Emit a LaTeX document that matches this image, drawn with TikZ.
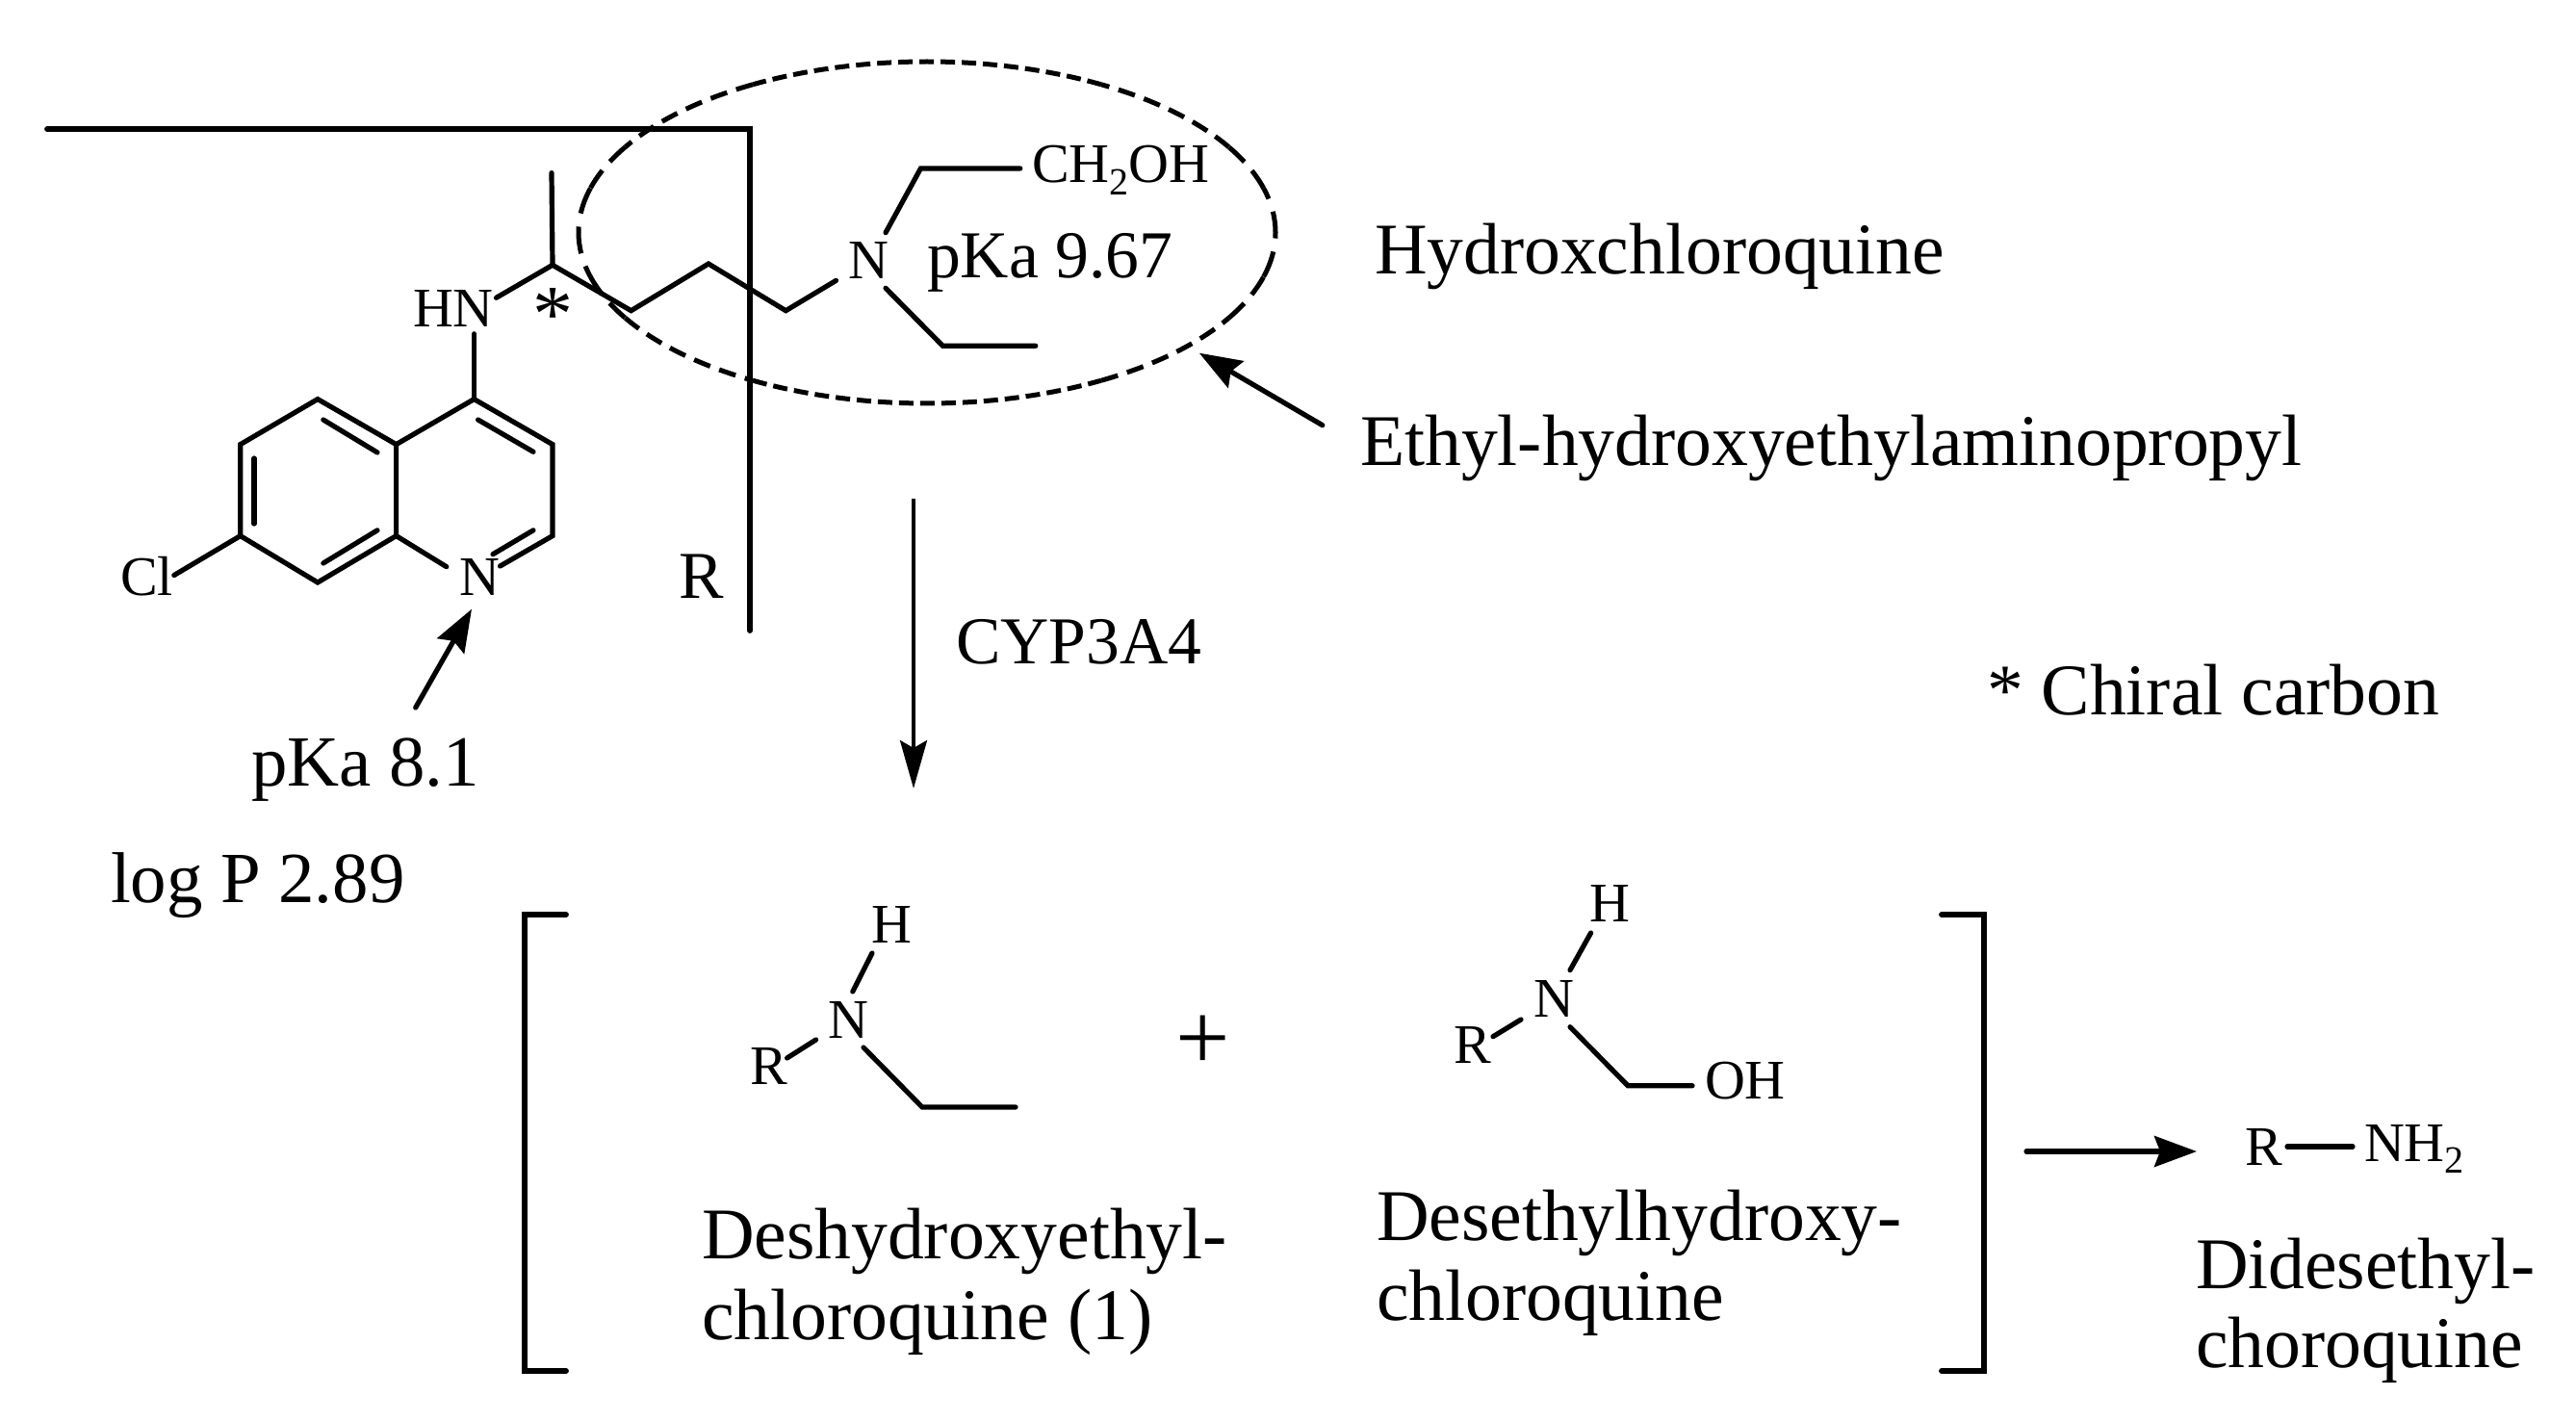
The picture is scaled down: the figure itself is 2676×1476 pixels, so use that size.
\documentclass[tikz,border=0pt]{standalone}
\usepackage{fontspec}
\setmainfont{Liberation Serif}
\usetikzlibrary{arrows.meta}
\newcommand{\bigtxt}{\fontsize{37.8}{41}\selectfont}
\newcommand{\midtxt}{\fontsize{34.8}{38}\selectfont}
\newcommand{\pktxt}{\fontsize{37.4}{41}\selectfont}
\newcommand{\chemtxt}{\fontsize{29}{32}\selectfont}
\newcommand{\subtwo}{\raisebox{-6.3pt}{\fontsize{20}{22}\selectfont 2}}
\tikzset{
  lab/.style={anchor=base west,inner sep=0pt,outer sep=0pt,font=\bigtxt},
  midlab/.style={anchor=base west,inner sep=0pt,outer sep=0pt,font=\midtxt},
  pklab/.style={anchor=base west,inner sep=0pt,outer sep=0pt,font=\pktxt},
  chem/.style={anchor=base west,inner sep=0pt,outer sep=0pt,font=\chemtxt},
  bond/.style={line width=2.6pt,line cap=round,line join=miter,black},
  frame/.style={line width=2.9pt,line cap=round,line join=miter,black},
  arr/.style={line width=2.6pt,line cap=round,-{Stealth[length=22pt,width=16pt,inset=3pt]}},
  thinarr/.style={line width=1.9pt,-{Stealth[length=25pt,width=14pt,inset=4pt]}},
}
\begin{document}
\begin{tikzpicture}[x=0.5pt,y=-0.5pt]
\useasboundingbox (0,0) rectangle (2676,1476);
% ---- frame R
\coordinate (fa) at (49,134);
\coordinate (fb) at (779,134);
\coordinate (fc) at (779,655);
\draw[frame] (fa) -- (fb) -- (fc);
% ---- quinoline ring
\coordinate (c4) at (492.5,414.6);
\coordinate (c4a) at (411.6,461.6);
\coordinate (c8a) at (411.6,556.6);
\coordinate (c5) at (330,414.6);
\coordinate (c6) at (249.7,461.6);
\coordinate (c7) at (249.7,556.6);
\coordinate (c8) at (330,605);
\coordinate (c3) at (574,461.6);
\coordinate (c2) at (574,556.6);
\coordinate (nra) at (463.8,588.7);
\coordinate (nrb) at (519.5,588);
\coordinate (cle) at (180.8,597.5);
\draw[bond] (c4a) -- (c5) -- (c6) -- (c7) -- (c8) -- (c8a) -- cycle;
\draw[bond] (c4a) -- (c4) -- (c3) -- (c2) -- (nrb);
\draw[bond] (c8a) -- (nra);
\draw[bond] (c7) -- (cle);
\coordinate (d1a) at (512,575.7); \coordinate (d1b) at (554,550.8);
\coordinate (d2a) at (496.6,436); \coordinate (d2b) at (554,469.3);
\coordinate (d3a) at (335.8,436); \coordinate (d3b) at (392,470);
\coordinate (d4a) at (264,476); \coordinate (d4b) at (264,544);
\coordinate (d5a) at (335.8,585); \coordinate (d5b) at (392,550.8);
\draw[bond] (d1a) -- (d1b);
\draw[bond] (d2a) -- (d2b);
\draw[bond] (d3a) -- (d3b);
\draw[bond] (d4a) -- (d4b);
\draw[bond] (d5a) -- (d5b);
\node[chem] (cl) at (125,618.6) {Cl};
\node[chem] (nring) at (477,618.6) {N};
% ---- side chain
\coordinate (hnb) at (492.5,346.8);
\coordinate (hnr) at (515.5,309.3);
\coordinate (cs) at (574,275.3);
\coordinate (me) at (573,179.6);
\coordinate (s1) at (655.6,322.7);
\coordinate (s2) at (736,274);
\coordinate (s3) at (816.3,322.7);
\coordinate (s4) at (868.5,291.4);
\draw[bond] (c4) -- (hnb);
\draw[bond] (hnr) -- (cs) -- (s1) -- (s2) -- (s3) -- (s4);
\draw[bond] (cs) -- (me);
\node[chem] (hn) at (429,340) {HN};
\node[anchor=base west,inner sep=0pt,font=\fontsize{42}{46}\selectfont] (star) at (553,355) {*};
% ---- tertiary amine
\node[chem] (namine) at (881,289.3) {N};
\coordinate (u1) at (920,241.7);
\coordinate (u2) at (956.4,175);
\coordinate (u3) at (1059.8,175);
\coordinate (l1) at (920,299.3);
\coordinate (l2) at (979.4,359.3);
\coordinate (l3) at (1075.8,359.3);
\draw[bond] (u1) -- (u2) -- (u3);
\draw[bond] (l1) -- (l2) -- (l3);
\node[chem] (choh) at (1072,190) {CH\subtwo OH};
\node[midlab] (pka1) at (963,289) {pKa 9.67};
% ---- dashed ellipse
\coordinate (ec) at (963,241.5);
\foreach \a/\b/\on/\off in {-15/15/14/7,15/30/11/6,-30/-15/11/6,30/60/9/5,-60/-30/9/5,60/120/7.5/3.5,-120/-60/7.5/3.5,120/150/9/5,-150/-120/9/5,150/165/11/6,-165/-150/11/6,165/195/14/7}
  \draw[line width=2.5pt,dash pattern=on \on pt off \off pt] (ec) ++(\a:181pt and 88.75pt) arc[start angle=\a,end angle=\b,x radius=181pt,y radius=88.75pt];
% ---- labels top
\node[lab] (hcq) at (1428,285) {Hydroxchloroquine};
\node[lab] (ethyl) at (1413,483) {Ethyl-hydroxyethylaminopropyl};
\coordinate (ea) at (1373.8,441.7);
\coordinate (eb) at (1245.8,366.7);
\draw[arr] (ea) -- (eb);
\node[midlab] (rlab) at (705,621.6) {R};
\coordinate (pa) at (431.7,735);
\coordinate (pb) at (490,632.7);
\draw[arr] (pa) -- (pb);
\node[pklab] (pka2) at (261,816) {pKa 8.1};
\node[pklab] (logp) at (115,937) {log P 2.89};
\coordinate (ma) at (949,518);
\coordinate (mb) at (949,819);
\draw[thinarr] (ma) -- (mb);
\node[midlab] (cyp) at (993,689) {CYP3A4};
\node[lab] (chiral) at (2064,742) {* Chiral carbon};
% ---- brackets
\coordinate (la) at (588,950);
\coordinate (lb) at (544.6,950);
\coordinate (lc) at (544.6,1424);
\coordinate (ld) at (588,1424);
\coordinate (ra) at (2017,950);
\coordinate (rb) at (2061,950);
\coordinate (rc) at (2061,1424);
\coordinate (rd) at (2017,1424);
\draw[frame] (la) -- (lb) -- (lc) -- (ld);
\draw[frame] (ra) -- (rb) -- (rc) -- (rd);
% ---- deshydroxyethyl
\node[chem] (r1) at (779,1126) {R};
\node[chem] (n1) at (860,1078.6) {N};
\node[chem] (h1) at (905.5,979) {H};
\coordinate (a1) at (817.6,1099); \coordinate (a2) at (847.6,1080);
\coordinate (a3) at (885.8,1030); \coordinate (a4) at (906,990);
\coordinate (a5) at (897,1088); \coordinate (a6) at (958,1150); \coordinate (a7) at (1055,1150);
\draw[bond] (a1) -- (a2);
\draw[bond] (a3) -- (a4);
\draw[bond] (a5) -- (a6) -- (a7);
\node[anchor=base west,inner sep=0pt,font=\fontsize{50}{54}\selectfont] (plus) at (1221,1111) {+};
\node[lab] (t1a) at (729,1307) {Deshydroxyethyl-};
\node[lab] (t1b) at (729,1391) {chloroquine (1)};
% ---- desethylhydroxy
\node[chem] (r2) at (1510.5,1104) {R};
\node[chem] (n2) at (1593,1056.7) {N};
\node[chem] (h2) at (1651,957) {H};
\node[chem] (oh) at (1771,1141.7) {OH};
\coordinate (b1) at (1551,1076.7); \coordinate (b2) at (1580,1059);
\coordinate (b3) at (1631,1007.7); \coordinate (b4) at (1652.6,969);
\coordinate (b5) at (1631,1066.7); \coordinate (b6) at (1691,1127.7); \coordinate (b7) at (1758,1127.7);
\draw[bond] (b1) -- (b2);
\draw[bond] (b3) -- (b4);
\draw[bond] (b5) -- (b6) -- (b7);
\node[lab] (t2a) at (1430,1288) {Desethylhydroxy-};
\node[lab] (t2b) at (1430,1371.7) {chloroquine};
% ---- didesethyl
\coordinate (ga) at (2105,1196);
\coordinate (gb) at (2282,1196);
\draw[arr] (ga) -- (gb);
\node[chem] (r3) at (2332,1210) {R};
\node[chem] (nh2) at (2456,1206) {NH\subtwo};
\coordinate (c1) at (2376,1191); \coordinate (c9) at (2444,1191);
\draw[bond] (c1) -- (c9);
\node[lab] (t3a) at (2281,1338.6) {Didesethyl-};
\node[lab] (t3b) at (2281,1420) {choroquine};
\end{tikzpicture}
\end{document}
